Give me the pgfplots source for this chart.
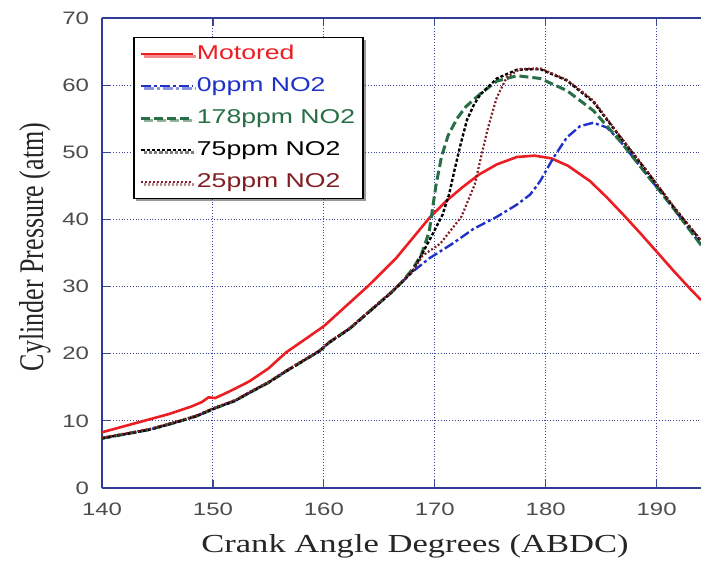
\documentclass[border=0pt]{standalone}
\usepackage{fontspec}
\setmainfont{Liberation Serif}
\newfontfamily\arial{Liberation Sans}
\usepackage{pgfplots}
\pgfplotsset{compat=1.18}
\usetikzlibrary{shadows}

\definecolor{motred}{RGB}{235,30,35}
\definecolor{zeroblue}{RGB}{30,50,200}
\definecolor{hgreen}{RGB}{40,110,70}
\definecolor{lowred}{RGB}{130,30,35}
\definecolor{framec}{RGB}{50,60,150}
\definecolor{gridc}{RGB}{60,70,150}

\begin{document}
\begin{tikzpicture}
\begin{axis}[
  scale only axis,
  width=299.5pt, height=235pt,
  xmin=140, xmax=194, ymin=0, ymax=70,
  xtick={140,150,...,190}, ytick={0,10,...,70},
  axis x line*=box, axis y line*=left,
  axis line style={framec, line width=0.7pt},
  major tick style={gridc, line width=0.6pt},
  major tick length=4pt,
  grid=major,
  grid style={gridc, densely dotted, line width=0.5pt},
  /pgf/number format/assume math mode=true,
  tick label style={font=\arial\fontsize{9}{10}\selectfont, text=black!70},
  xticklabel={\scalebox{1.33}[1]{\pgfmathprintnumber{\tick}}},
  yticklabel={\scalebox{1.33}[1]{\pgfmathprintnumber{\tick}}},
  x tick label style={yshift=-4pt},
  y tick label style={xshift=-3pt},
  xlabel={\scalebox{1.33}[1]{Crank Angle Degrees (ABDC)}},
  ylabel={\scalebox{1}[1.33]{Cylinder Pressure (atm)}},
  label style={font=\fontsize{13}{15}\selectfont, text=black!85},
  xlabel style={at={(axis description cs:0.5225,-0.138)}, anchor=base},
  ylabel style={at={(axis description cs:-0.112,0.513)}, anchor=center},
  legend cell align=left,
  legend image code/.code={\draw[#1] (0pt,0pt) -- (26pt,0pt);},
  legend style={at={(axis description cs:0.052,0.96)}, anchor=north west,
    draw=black, line width=0.8pt, fill=white,
    drop shadow={shadow xshift=1.2pt, shadow yshift=-1.2pt, fill=black!80},
    font=\arial\fontsize{10}{12}\selectfont,
    inner xsep=3pt, inner ysep=2.5pt, row sep=4.5pt,
    nodes={inner sep=1pt, text height=7.5pt, text depth=2pt}},
]
\coordinate (sw) at (rel axis cs:0,0);

% Motored
\addplot[motred, line width=1.3pt] coordinates {
(140,8.3)(142,9.2)(144,10.1)(146,11.0)(148,12.1)(149,12.8)(149.6,13.5)(150.2,13.4)
(151,14.0)(152,14.8)(153.3,15.9)(155,17.8)(156.6,20.2)(158,21.8)(160,24.1)(162,27.1)
(164,30.1)(166.5,34.2)(168,37.2)(169.5,40.2)(171,42.7)(172.5,44.8)(174,46.7)(175.6,48.2)
(177.4,49.3)(179,49.5)(180.5,49.1)(182,48.0)(184,45.7)(185.5,43.3)(187,40.7)(188.5,38.0)
(190,35.2)(191.5,32.4)(193,29.7)(194,28.0)};
\addlegendentry{\textcolor{motred}{\scalebox{1.33}[1]{Motored}}}

% 0 ppm NO2
\addplot[zeroblue, line width=1.2pt, dash pattern=on 5pt off 1.5pt on 1.5pt off 1.5pt] coordinates {
(140,7.4)(142,8.0)(144.3,8.7)(146.5,9.7)(148.5,10.7)(150.2,11.9)(152,13.0)(153.3,14.2)
(155,15.7)(156.6,17.4)(158,18.8)(159.6,20.4)(160.5,21.7)(162.3,23.7)(164.4,26.7)(166,29.0)
(167,30.6)(168,32.2)(169.5,34.2)(171.6,36.4)(173.5,38.6)(175.6,40.4)(177.4,42.2)(178.6,43.7)
(179.5,45.7)(180.7,49.2)(181.9,52.2)(183.1,53.9)(184.3,54.4)(185.5,53.7)(186.7,51.7)
(189.1,46.7)(191.5,41.7)(194,36.2)};
\addlegendentry{\textcolor{zeroblue}{\scalebox{1.33}[1]{0ppm NO2}}}

% 178 ppm NO2
\addplot[hgreen, line width=1.5pt, dash pattern=on 4.5pt off 2pt] coordinates {
(140,7.4)(142,8.0)(144.3,8.7)(146.5,9.7)(148.5,10.7)(150.2,11.9)(152,13.0)(153.3,14.2)
(155,15.7)(156.6,17.4)(158,18.8)(159.6,20.4)(160.5,21.7)(162.3,23.7)(164.4,26.7)(166,29.0)
(167,30.6)(168,32.6)(168.8,34.8)(169.5,38.2)(170.1,45.0)(170.6,49.3)(171.2,52.5)(172,55.0)
(172.8,56.8)(174.1,58.7)(175.6,60.6)(177.4,61.4)(179.5,61.0)(181.9,59.2)(184.3,56.2)
(186.7,51.7)(189.1,46.7)(191.5,41.7)(194,36.2)};
\addlegendentry{\textcolor{hgreen}{\scalebox{1.33}[1]{178ppm NO2}}\hspace{6pt}}

% 75 ppm NO2
\addplot[black, line width=1.2pt, dash pattern=on 1.6pt off 1pt] coordinates {
(140,7.4)(142,8.0)(144.3,8.7)(146.5,9.7)(148.5,10.7)(150.2,11.9)(152,13.0)(153.3,14.2)
(155,15.7)(156.6,17.4)(158,18.8)(159.6,20.4)(160.5,21.7)(162.3,23.7)(164.4,26.7)(166,29.0)
(167,30.6)(168,32.3)(168.9,35.0)(169.8,37.8)(170.7,40.7)(171.3,43.8)(171.8,47.5)(172.3,51.0)
(172.9,54.8)(173.5,57.0)(174.1,58.6)(175.6,61.0)(177.4,62.3)(179.5,62.4)(181.9,60.7)
(184.3,57.5)(186.7,52.3)(189.1,47.2)(191.5,41.9)(194,36.8)};
\addlegendentry{\textcolor{black}{\scalebox{1.33}[1]{75ppm NO2}}}

% 25 ppm NO2
\addplot[lowred, line width=1.1pt, dash pattern=on 1pt off 1pt] coordinates {
(140,7.5)(142,8.1)(144.3,8.8)(146.5,9.8)(148.5,10.8)(150.2,12.0)(152,13.1)(153.3,14.3)
(155,15.8)(156.6,17.5)(158,18.9)(159.6,20.5)(160.5,21.8)(162.3,23.8)(164.4,26.8)(166,29.1)
(167,30.7)(168,32.3)(168.9,34.6)(170.5,36.4)(172.4,40.4)(173.6,45.2)(174.2,49.5)(174.7,53.0)
(175.2,56.0)(175.6,58.2)(176.5,61.2)(177.7,62.4)(179.5,62.5)(181.9,60.8)(184.3,57.7)
(186.7,52.4)(189.1,47.3)(191.5,42.0)(194,36.9)};
\addlegendentry{\textcolor{lowred}{\scalebox{1.33}[1]{25ppm NO2}}}
\end{axis}
\pgfresetboundingbox
\path (sw) ++(-51pt,-37.5pt) rectangle ++(350.5pt,281.5pt);
\end{tikzpicture}
\end{document}
